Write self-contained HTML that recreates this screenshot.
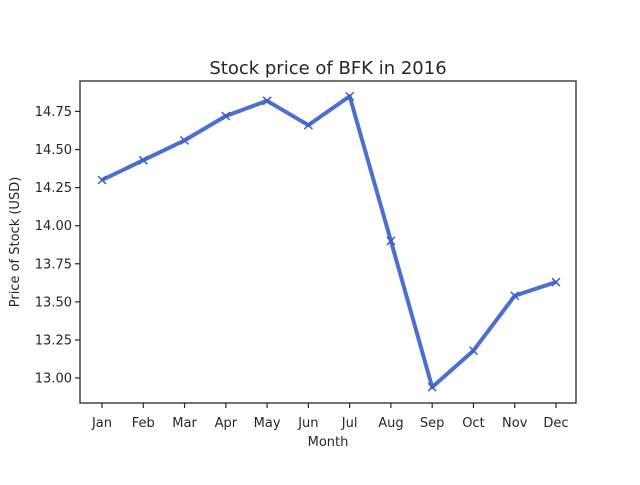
<!DOCTYPE html>
<html><head><meta charset="utf-8"><style>
body{margin:0;background:#fff;}
svg text{font-family:"DejaVu Sans","Liberation Sans",sans-serif;fill:#262626;}
</style></head><body>
<svg id="chart" width="640" height="480" xmlns="http://www.w3.org/2000/svg">
<rect width="640" height="480" fill="#fff"/>
<text x="328" y="74" font-size="18" text-anchor="middle">Stock price of BFK in 2016</text>
<g id="axes"></g>
<text x="328" y="446" font-size="13" text-anchor="middle">Month</text>
<text transform="translate(19,242) rotate(-90)" font-size="13" text-anchor="middle">Price of Stock (USD)</text>
</svg>
<script>
const months=["Jan","Feb","Mar","Apr","May","Jun","Jul","Aug","Sep","Oct","Nov","Dec"];
const prices=[14.30,14.43,14.56,14.72,14.82,14.66,14.85,13.90,12.94,13.18,13.54,13.63];
const yTicks=[13.00,13.25,13.50,13.75,14.00,14.25,14.50,14.75];
const L=80,R=576,T=81,B=403,yMin=12.836,yMax=14.95;
const xS=i=>102+i*(556-102)/(months.length-1);
const yS=v=>B-(v-yMin)/(yMax-yMin)*(B-T);
const NS="http://www.w3.org/2000/svg";
const g=document.getElementById('axes');
function mk(t,a){const e=document.createElementNS(NS,t);for(const k in a)e.setAttribute(k,a[k]);g.appendChild(e);return e;}
yTicks.forEach(v=>{const y=yS(v);
const tk=mk('line',{x1:L-5,x2:L,y1:y,y2:y,stroke:'#262626','stroke-width':1.2});


const t=mk('text',{x:L-8,y:y+4.5,'font-size':13,'text-anchor':'end'});t.textContent=v.toFixed(2);

});
months.forEach((m,i)=>{const x=xS(i);
const tk=mk('line',{x1:x,x2:x,y1:B,y2:B+5,stroke:'#262626','stroke-width':1.2});


const t=mk('text',{x:x,y:B+24,'font-size':13,'text-anchor':'middle'});t.textContent=m;

});
const line=mk('polyline',{points:prices.map((v,i)=>xS(i)+','+yS(v)).join(' '),fill:'none',stroke:'#4c6fd1','stroke-width':4,'stroke-linejoin':'round'});


prices.forEach((v,i)=>{const x=xS(i),y=yS(v);
const p=mk('path',{d:`M${x-4},${y-4}L${x+4},${y+4}M${x-4},${y+4}L${x+4},${y-4}`,stroke:'#3f5fbf','stroke-width':1.5});

});
const fr=mk('rect',{x:L,y:T,width:R-L,height:B-T,fill:'none',stroke:'#262626','stroke-width':1.3});


</script>
</body></html>
